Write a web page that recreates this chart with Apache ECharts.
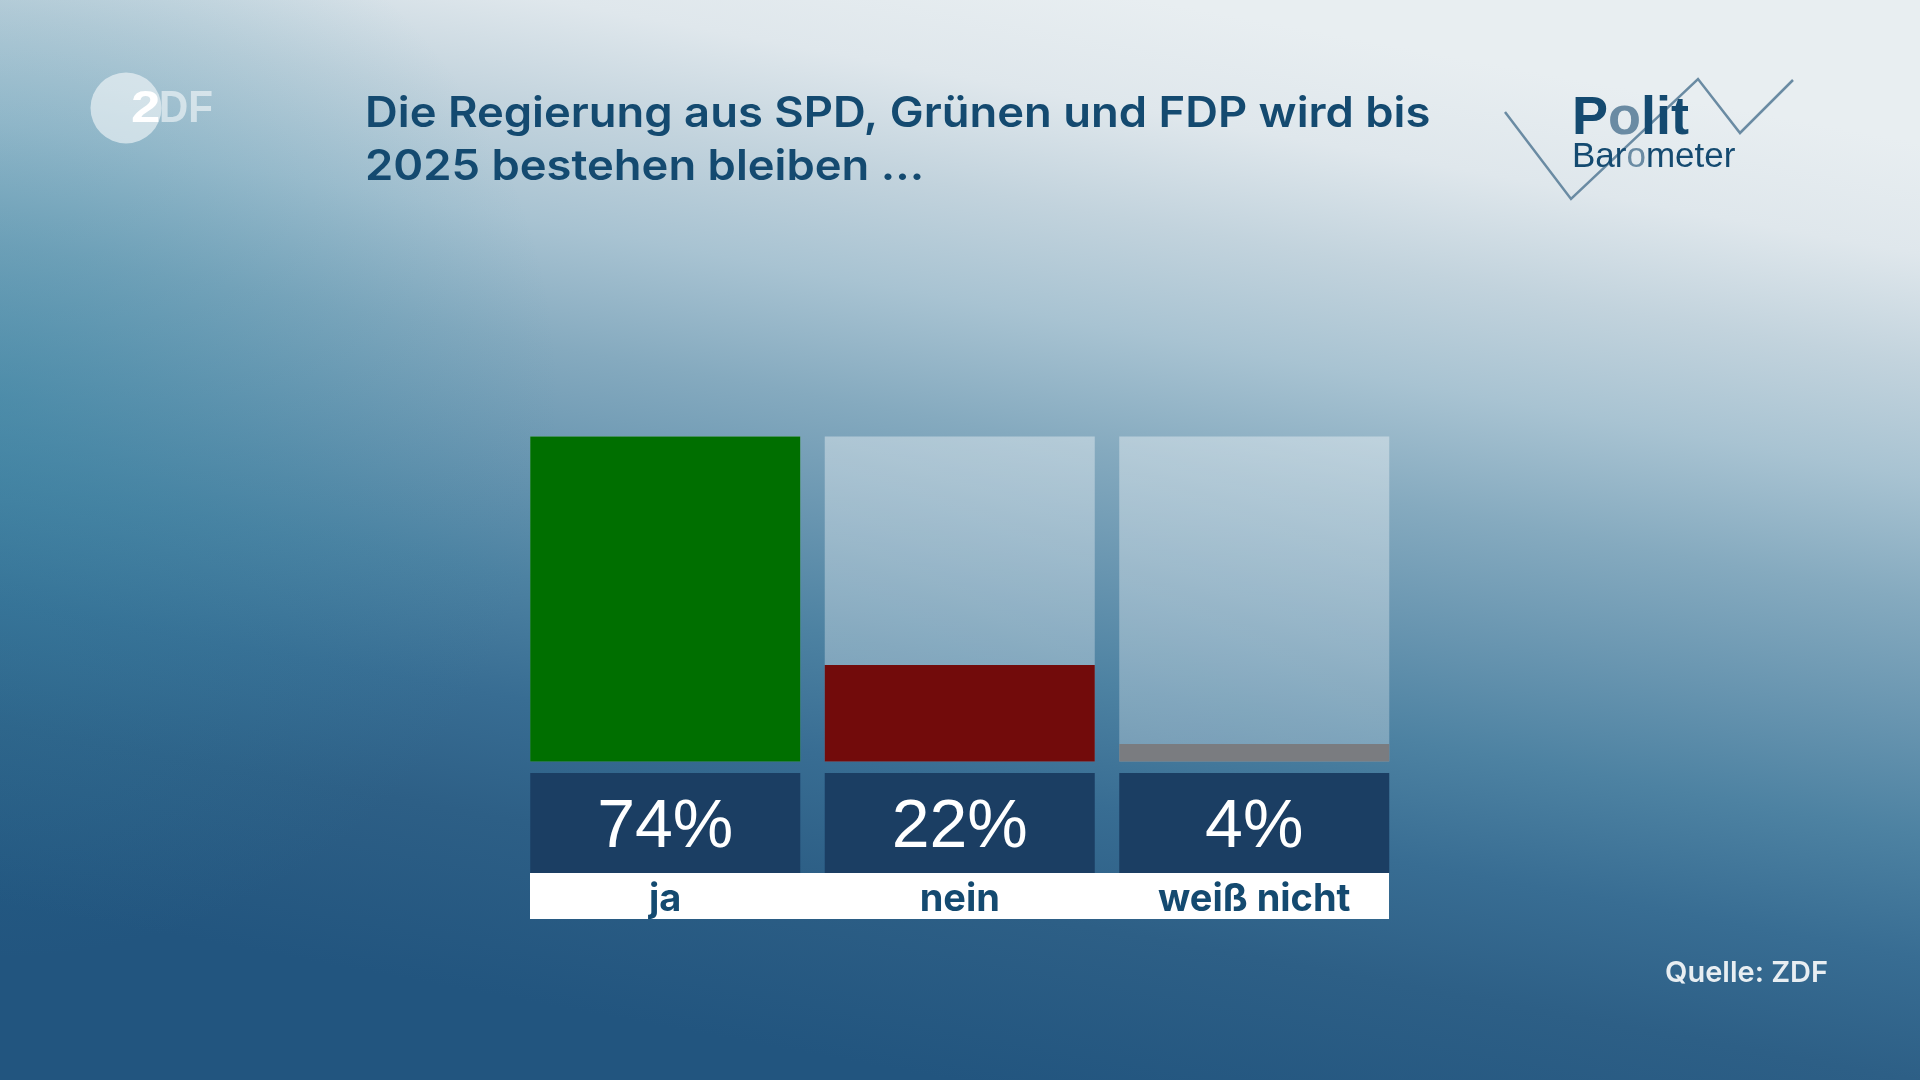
<!DOCTYPE html>
<html>
<head>
<meta charset="utf-8">
<title>Politbarometer</title>
<script src="https://cdn.jsdelivr.net/npm/echarts@6/dist/echarts.min.js"></script>
<style>
html, body { margin: 0; padding: 0; background: #2a5c85; }
#main { width: 1920px; height: 1080px; }
</style>
</head>
<body>
<div id="main"></div>
<script>
var categories = ['ja', 'nein', 'weiß nicht'];
var shares = [74, 22, 4];
var barColors = ['#006f00', '#720b0b', '#7a7c80'];
var titleText = 'Die Regierung aus SPD, Grünen und FDP wird bis\n2025 bestehen bleiben ...';
var sourceText = 'Quelle: ZDF';

var textBlue = '#144a70';
var logoLine = '#6a8ba3';

var myChart = echarts.init(document.getElementById('main'));

var option = {
	animation: false,
	backgroundColor: new echarts.graphic.LinearGradient(1150, 0, 950, 1080, [
		{ offset: 0, color: '#e8eef1' },
		{ offset: 0.1, color: '#dfe7ec' },
		{ offset: 0.2, color: '#c2d3dd' },
		{ offset: 0.3, color: '#a8c3d2' },
		{ offset: 0.41, color: '#85aabf' },
		{ offset: 0.52, color: '#6895b0' },
		{ offset: 0.62, color: '#4d82a2' },
		{ offset: 0.73, color: '#386d93' },
		{ offset: 0.84, color: '#2d5f86' },
		{ offset: 1, color: '#22557f' }
	], true),
	grid: { left: 518, top: 436.5, width: 883.5, height: 325 },
	xAxis: {
		type: 'category',
		data: categories,
		axisLine: { show: false },
		axisTick: { show: false },
		axisLabel: {
			interval: 0,
			margin: 16.5,
			formatter: function (value, index) {
				return '{pct|' + shares[index] + '%}\n{name|' + value + '}';
			},
			rich: {
				pct: {
					width: 270, height: 90, lineHeight: 90, align: 'center', padding: [10, 0, 0, 0],
					backgroundColor: '#1b3e63', color: '#ffffff',
					fontFamily: 'Liberation Sans', fontSize: 68
				},
				name: {
					width: 270, height: 63, lineHeight: 63, align: 'center',
					color: textBlue, fontFamily: 'Inter', fontWeight: 700, fontSize: 38
				}
			}
		}
	},
	yAxis: { type: 'value', min: 0, max: 74, show: false },
	series: [{
		type: 'bar',
		barWidth: 270,
		showBackground: true,
		backgroundStyle: {
			color: new echarts.graphic.LinearGradient(0, 0, 0, 1, [
				{ offset: 0, color: 'rgba(255,255,255,0.38)' },
				{ offset: 1, color: 'rgba(255,255,255,0.28)' }
			])
		},
		data: shares.map(function (v, i) {
			return { value: v, itemStyle: { color: barColors[i] } };
		})
	}],
	graphic: [
		// teal glow on the left of the backdrop
		{ type: 'rect', z: -2, shape: { x: 0, y: 0, width: 1000, height: 1080 }, style: {
			fill: new echarts.graphic.RadialGradient(0, 400, 560, [
				{ offset: 0, color: 'rgba(50,135,165,0.42)' },
				{ offset: 1, color: 'rgba(50,135,165,0)' }
			], true)
		} },
		// white strip under the answer names
		{ type: 'rect', z: -1, shape: { x: 530, y: 873, width: 859, height: 46 }, style: { fill: '#ffffff' } },
		// title
		{ type: 'text', x: 365, y: 88, scaleX: 1.08, style: {
			text: titleText, fill: textBlue, fontFamily: 'Inter', fontWeight: 600,
			fontSize: 42, lineHeight: 53
		} },
		// source
		{ type: 'text', x: 1665, y: 956, style: {
			text: sourceText, fill: '#e8eef2', fontFamily: 'Inter', fontWeight: 600, fontSize: 29, lineHeight: 34
		} },
		// ZDF logo
		{ type: 'circle', shape: { cx: 126, cy: 108, r: 35.5 }, style: { fill: 'rgba(255,255,255,0.55)' } },
		{ type: 'text', x: 131, y: 88, scaleX: 1.2, style: {
			text: '2', fill: '#ffffff', fontFamily: 'Liberation Sans', fontWeight: 700, fontSize: 44, lineHeight: 44
		} },
		{ type: 'text', x: 159, y: 88, scaleX: 0.92, style: {
			text: 'DF', fill: 'rgba(255,255,255,0.55)', fontFamily: 'Liberation Sans', fontWeight: 700, fontSize: 44, lineHeight: 44
		} },
		// Politbarometer logo
		{ type: 'polyline', shape: { points: [[1505, 112], [1571, 199], [1698, 79], [1740, 133], [1793, 80]] },
			style: { stroke: logoLine, lineWidth: 2.5, fill: 'none' } },
		{ type: 'text', x: 1572, y: 92, style: {
			text: '{a|P}{b|o}{a|lit}',
			rich: {
				a: { fill: textBlue, fontFamily: 'Liberation Sans', fontWeight: 700, fontSize: 54 },
				b: { fill: logoLine, fontFamily: 'Liberation Sans', fontWeight: 700, fontSize: 54 }
			}
		} },
		{ type: 'text', x: 1572, y: 140, style: {
			text: '{a|Bar}{b|o}{a|meter}',
			rich: {
				a: { fill: textBlue, fontFamily: 'Liberation Sans', fontSize: 35 },
				b: { fill: logoLine, fontFamily: 'Liberation Sans', fontSize: 35 }
			}
		} }
	]
};

myChart.setOption(option);
window.addEventListener('resize', function () {
	myChart.resize();
});
</script>
</body>
</html>
